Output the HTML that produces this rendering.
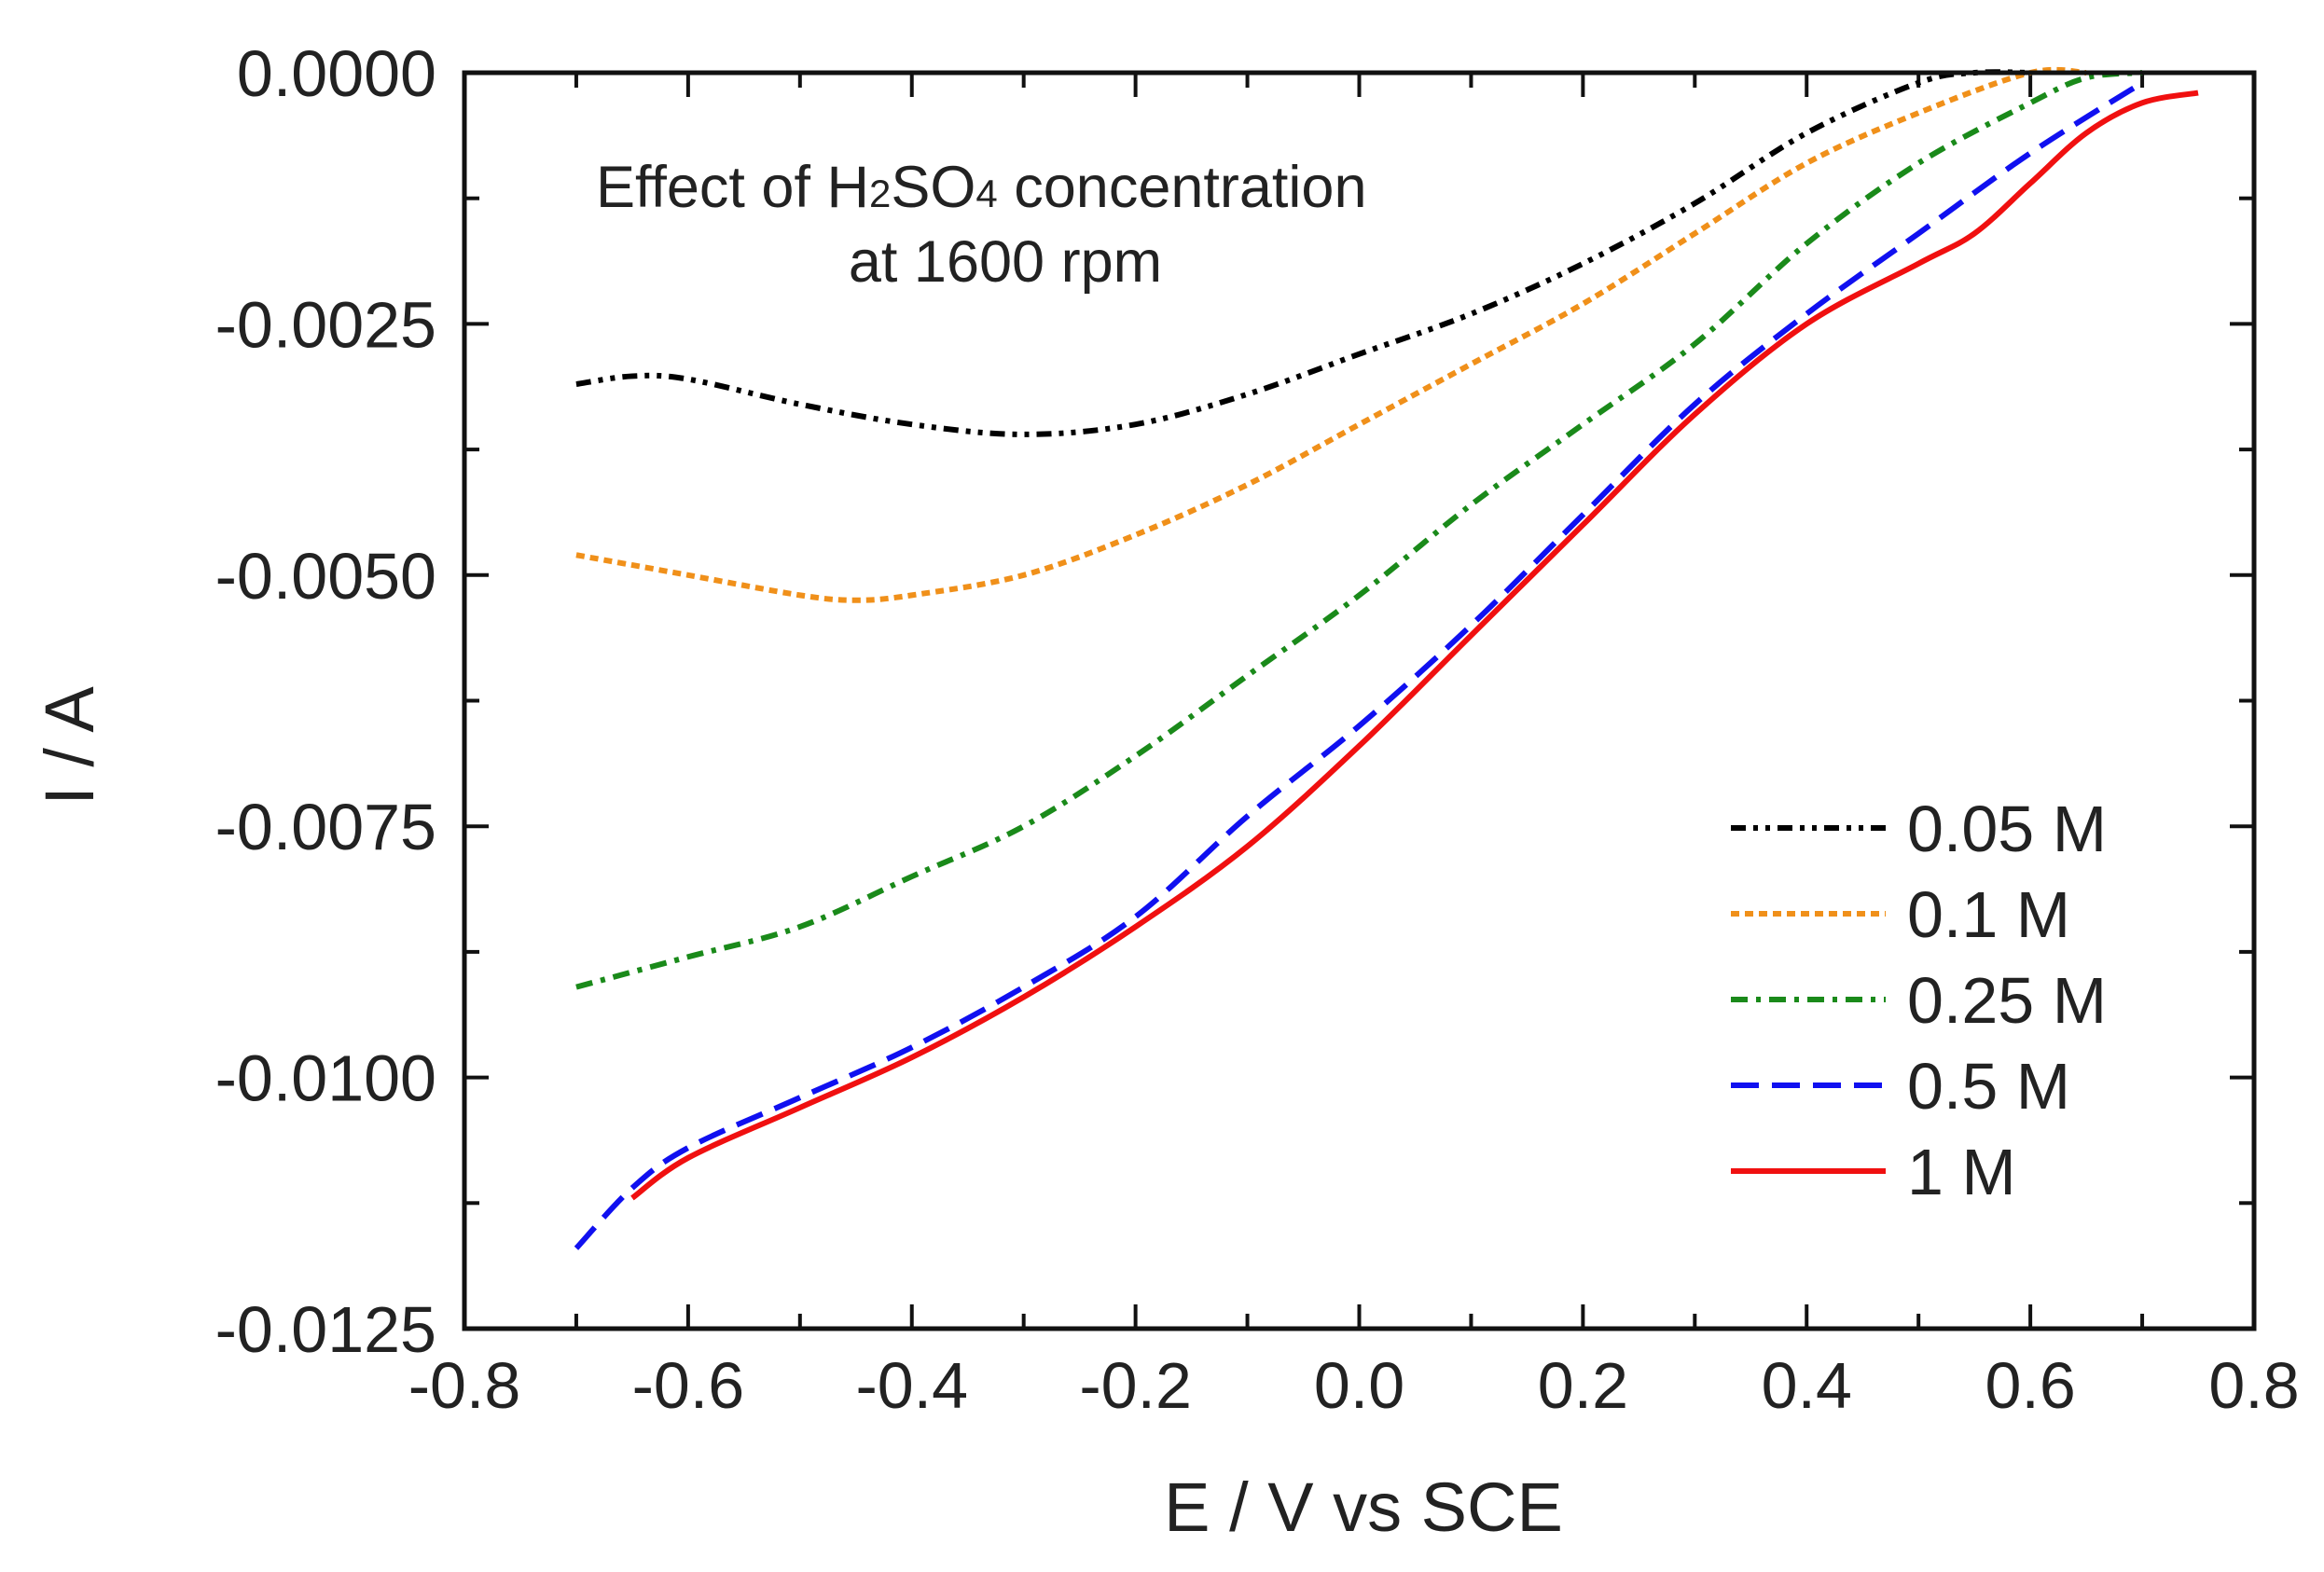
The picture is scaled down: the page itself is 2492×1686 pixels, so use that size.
<!DOCTYPE html>
<html><head><meta charset="utf-8"><style>
html,body{margin:0;padding:0;background:#fff;}
svg{display:block;font-family:"Liberation Sans",Arial,sans-serif;}
</style></head><body>
<svg id="chart" width="2492" height="1686" viewBox="0 0 2492 1686">
<g id="ticks"></g>
<g id="series"></g>
<rect x="498" y="78" width="1919" height="1347" fill="none" stroke="#111" stroke-width="5"/>
<g id="labels"></g>
<text x="1462" y="1642" font-size="74" text-anchor="middle" fill="#222">E / V vs SCE</text>
<text transform="translate(100,800) rotate(-90)" font-size="74" text-anchor="middle" fill="#222">I / A</text>
<text x="639" y="222" font-size="63" fill="#222">Effect of H<tspan font-size="42">2</tspan>SO<tspan font-size="42">4</tspan> concentration</text>
<text x="1078" y="302" font-size="63" fill="#222" text-anchor="middle">at 1600 rpm</text>
<g id="legend"></g>
</svg>
<script>
const seriesNames=["0.05 M","0.1 M","0.25 M","0.5 M","1 M"];
const xTicks=[-0.8,-0.6,-0.4,-0.2,0.0,0.2,0.4,0.6,0.8];
const yTicks=[0,-0.0025,-0.005,-0.0075,-0.01,-0.0125];
const xTickLabels=["-0.8","-0.6","-0.4","-0.2","0.0","0.2","0.4","0.6","0.8"];
const yTickLabels=["0.0000","-0.0025","-0.0050","-0.0075","-0.0100","-0.0125"];
const e005=[-0.7,-0.65,-0.6,-0.5,-0.4,-0.3,-0.2,-0.1,0,0.1,0.2,0.3,0.4,0.5,0.55,0.6];
const i005=[-0.0031,-0.00302,-0.00305,-0.0033,-0.0035,-0.0036,-0.0035,-0.0032,-0.0028,-0.0024,-0.0019,-0.0013,-0.0006,-0.0001,0,0];
const e01=[-0.7,-0.6,-0.5,-0.45,-0.4,-0.3,-0.2,-0.1,0,0.1,0.2,0.3,0.4,0.5,0.6,0.65];
const i01=[-0.0048,-0.005,-0.0052,-0.00525,-0.0052,-0.005,-0.0046,-0.0041,-0.0035,-0.0029,-0.0023,-0.0016,-0.0009,-0.0004,0,0];
const e025=[-0.7,-0.6,-0.5,-0.4,-0.3,-0.2,-0.1,0,0.1,0.2,0.3,0.4,0.5,0.6,0.65,0.7];
const i025=[-0.0091,-0.0088,-0.0085,-0.008,-0.0075,-0.0068,-0.006,-0.0052,-0.0043,-0.0035,-0.0027,-0.0017,-0.0009,-0.0003,-0.00005,0];
const e05=[-0.7,-0.65,-0.6,-0.5,-0.4,-0.3,-0.2,-0.1,0,0.1,0.2,0.3,0.4,0.5,0.6,0.7];
const i05=[-0.0117,-0.0111,-0.0107,-0.0102,-0.0097,-0.0091,-0.0084,-0.0074,-0.0065,-0.0055,-0.0044,-0.0033,-0.0024,-0.0016,-0.0008,-0.0001];
const e1=[-0.65,-0.6,-0.5,-0.4,-0.3,-0.2,-0.1,0,0.1,0.2,0.3,0.4,0.5,0.55,0.6,0.65,0.7,0.75];
const i1=[-0.0112,-0.0108,-0.0103,-0.0098,-0.0092,-0.0085,-0.0077,-0.0067,-0.0056,-0.0045,-0.0034,-0.0025,-0.0019,-0.0016,-0.0011,-0.0006,-0.0003,-0.0002];

const L=498,R=2417,T=78,B=1425;
const X=v=>L+(v+0.8)/1.6*(R-L);
const Y=v=>T+(-v)/0.0125*(B-T);
const NS="http://www.w3.org/2000/svg";
function mk(tag,attrs,parent){const el=document.createElementNS(NS,tag);for(const k in attrs)el.setAttribute(k,attrs[k]);parent.appendChild(el);return el;}
const tg=document.getElementById('ticks'),lg=document.getElementById('labels');
for(let k=0;k<=16;k++){const v=-0.8+k*0.1;const len=(k%2===0)?26:16;const x=X(v);
 let t=mk('line',{x1:x,x2:x,y1:B,y2:B-len,stroke:'#111','stroke-width':4},tg);
 
 
 t=mk('line',{x1:x,x2:x,y1:T,y2:T+len,stroke:'#111','stroke-width':4},tg);
 
 }
for(let k=0;k<=10;k++){const v=-k*0.00125;const len=(k%2===0)?26:16;const y=Y(v);
 let t=mk('line',{x1:L,x2:L+len,y1:y,y2:y,stroke:'#111','stroke-width':4},tg);
 
 
 t=mk('line',{x1:R,x2:R-len,y1:y,y2:y,stroke:'#111','stroke-width':4},tg);
 
 }
xTicks.forEach((v,i)=>{const t=mk('text',{x:X(v),y:1510,'font-size':70,'text-anchor':'middle',fill:'#222'},lg);t.textContent=xTickLabels[i];
 
 });
yTicks.forEach((v,i)=>{const t=mk('text',{x:468,y:Y(v)+25,'font-size':70,'text-anchor':'end',fill:'#222'},lg);t.textContent=yTickLabels[i];
 
 });
function smooth(xs,ys){const p=xs.map((x,i)=>[X(x),Y(ys[i])]);let d='M'+p[0][0]+','+p[0][1];
 for(let i=0;i<p.length-1;i++){const p0=p[i-1]||p[i],p1=p[i],p2=p[i+1],p3=p[i+2]||p2;
  d+=' C'+(p1[0]+(p2[0]-p0[0])/6)+','+(p1[1]+(p2[1]-p0[1])/6)+' '+(p2[0]-(p3[0]-p1[0])/6)+','+(p2[1]-(p3[1]-p1[1])/6)+' '+p2[0]+','+p2[1];}return d;}
const styles=[{c:'#000',d:'16 8 5 8 5 8'},{c:'#f0901a',d:'9 6'},{c:'#1a8a1a',d:'18 9 5 9'},{c:'#1010f0',d:'30 14'},{c:'#f01010',d:''}];
const data=[[e005,i005],[e01,i01],[e025,i025],[e05,i05],[e1,i1]];
const sg=document.getElementById('series'),leg=document.getElementById('legend');
const ids=['series-0-05m','series-0-1m','series-0-25m','series-0-5m','series-1m'];
data.forEach((s,i)=>{const st=styles[i];
 const p=mk('path',{d:smooth(s[0],s[1]),fill:'none',stroke:st.c,'stroke-width':6,'stroke-dasharray':st.d},sg);
 
 
 const y=888+i*92;
 const l=mk('line',{x1:1856,x2:2022,y1:y,y2:y,stroke:st.c,'stroke-width':6,'stroke-dasharray':st.d},leg);
 
 
 const t=mk('text',{x:2045,y:y+25,'font-size':70,fill:'#222'},leg);t.textContent=seriesNames[i];
 
 });
</script>
</body></html>
